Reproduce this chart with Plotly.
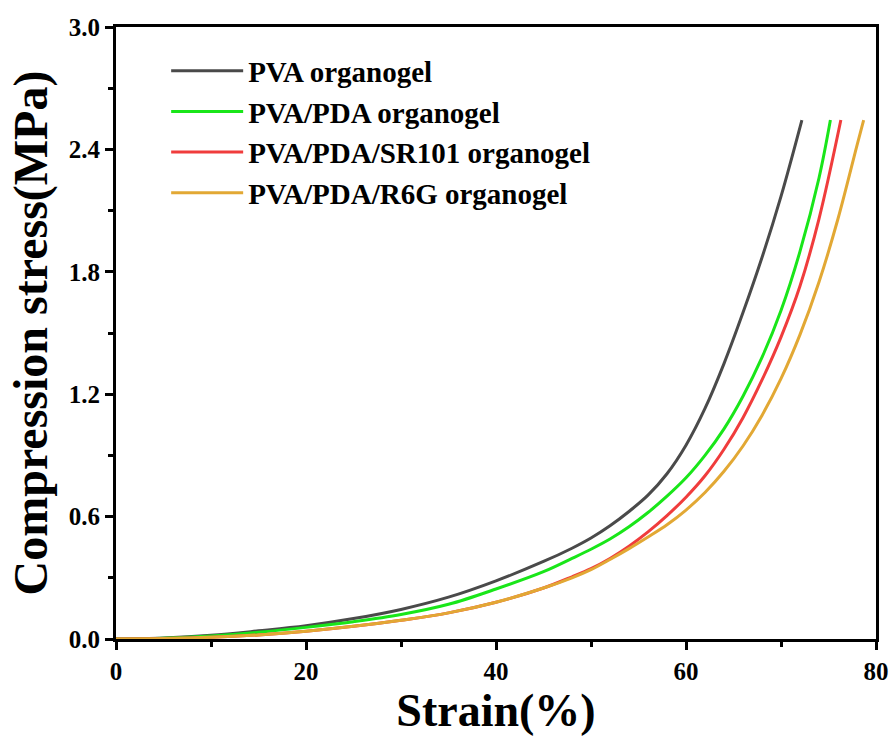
import plotly.graph_objects as go

series_names = ["PVA organogel", "PVA/PDA organogel", "PVA/PDA/SR101 organogel", "PVA/PDA/R6G organogel"]
series_colors = ["#4a4a4a", "#19e619", "#f03c3c", "#e2a834"]

pva_x = [0, 5, 10, 15, 20, 25, 30, 35, 40, 45, 48, 50, 52, 54, 56, 58, 60, 62, 64, 66, 68, 70, 72.2]
pva_y = [0, 0.005, 0.018, 0.04, 0.065, 0.1, 0.145, 0.205, 0.285, 0.38, 0.445, 0.495, 0.555, 0.625, 0.705, 0.81, 0.95, 1.13, 1.35, 1.6, 1.87, 2.17, 2.544]

pda_x = [0, 5, 10, 15, 20, 25, 30, 35, 40, 45, 48, 50, 52, 54, 56, 58, 60, 62, 64, 66, 68, 70, 72, 74, 75.2]
pda_y = [0, 0.004, 0.015, 0.033, 0.057, 0.085, 0.12, 0.17, 0.245, 0.33, 0.395, 0.44, 0.49, 0.55, 0.62, 0.7, 0.79, 0.9, 1.03, 1.19, 1.38, 1.61, 1.9, 2.26, 2.544]

sr_x = [0, 5, 10, 15, 20, 25, 30, 35, 40, 45, 48, 50, 52, 54, 56, 58, 60, 62, 64, 66, 68, 70, 72, 74, 76.3]
sr_y = [0, 0.002, 0.008, 0.02, 0.038, 0.062, 0.092, 0.128, 0.18, 0.25, 0.305, 0.345, 0.395, 0.455, 0.525, 0.605, 0.695, 0.8, 0.93, 1.085, 1.27, 1.48, 1.73, 2.06, 2.544]

r6g_x = [0, 5, 10, 15, 20, 25, 30, 35, 40, 45, 48, 50, 52, 54, 56, 58, 60, 62, 64, 66, 68, 70, 72, 74, 76, 78, 78.7]
r6g_y = [0, 0.002, 0.008, 0.02, 0.038, 0.062, 0.092, 0.128, 0.18, 0.25, 0.3, 0.34, 0.39, 0.443, 0.5, 0.56, 0.632, 0.718, 0.822, 0.946, 1.096, 1.276, 1.492, 1.75, 2.06, 2.42, 2.544]

x_ticks = [0, 20, 40, 60, 80]
y_ticks = [0.0, 0.6, 1.2, 1.8, 2.4, 3.0]

FONT = "Liberation Serif"

fig = go.Figure()
for name, color, xs, ys in zip(series_names, series_colors,
                               [pva_x, pda_x, sr_x, r6g_x],
                               [pva_y, pda_y, sr_y, r6g_y]):
    fig.add_trace(go.Scatter(x=xs, y=ys, mode="lines", name=name,
                             line=dict(color=color, width=3, shape="spline", smoothing=1.0)))

axis_common = dict(
    showline=True, linecolor="black", linewidth=3, mirror=True,
    ticks="outside", ticklen=8, tickwidth=3, tickcolor="black",
    showgrid=False, zeroline=False, automargin=False,
    tickfont=dict(family=FONT, size=25, color="black", weight="bold"),
)

fig.update_xaxes(range=[0, 80], tickvals=x_ticks, ticktext=[str(v) for v in x_ticks],
                 minor=dict(ticks="outside", ticklen=5, tickwidth=3, tickcolor="black", dtick=10, tick0=0),
                 title=dict(text="<b>Strain(%)</b>", font=dict(family=FONT, size=46, color="black"), standoff=10),
                 **axis_common)
fig.update_yaxes(range=[0, 3.0], tickvals=y_ticks, ticktext=[f"{v:.1f}" for v in y_ticks],
                 minor=dict(ticks="outside", ticklen=5, tickwidth=3, tickcolor="black", dtick=0.3, tick0=0),
                 title=dict(text="<b>Compression stress(MPa)</b>", font=dict(family=FONT, size=48, color="black"), standoff=6),
                 **axis_common)

fig.update_layout(
    width=892, height=751,
    margin=dict(l=116, r=16, t=27, b=112),
    paper_bgcolor="white", plot_bgcolor="white",
    showlegend=True,
    legend=dict(x=0.066, y=0.97, xanchor="left", yanchor="top",
                bgcolor="rgba(0,0,0,0)", borderwidth=0,
                font=dict(family=FONT, size=29, color="black", weight="bold"),
                itemwidth=72),
)

fig.write_html("out.html",
               config={"displayModeBar": False},
               post_script="document.body.style.margin='0';document.body.style.overflow='hidden';")
